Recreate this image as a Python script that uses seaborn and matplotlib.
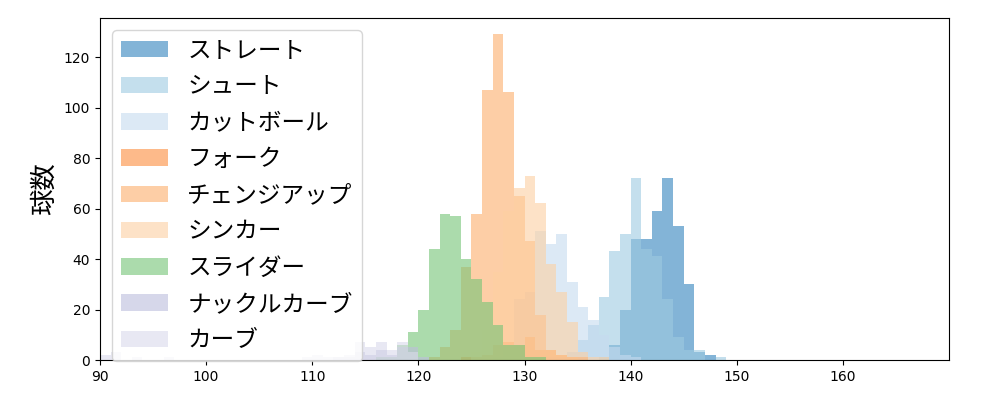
import numpy as np
import pandas as pd
import matplotlib
matplotlib.use('Agg')
import matplotlib.pyplot as plt
import seaborn as sns

# Pitch types, in legend order, and their colours
pitch_names = ['ストレート', 'シュート', 'カットボール', 'フォーク', 'チェンジアップ',
               'シンカー', 'スライダー', 'ナックルカーブ', 'カーブ']
pitch_colors = ['#3182bd', '#9ecae1', '#c6dbef', '#fd8d3c', '#fdae6b',
                '#fdd0a2', '#74c476', '#bcbddc', '#dadaeb']

# Counts per 1 km/h bin, starting at the given speed
straight_start = 137
straight = [1, 6, 20, 48, 48, 59, 72, 53, 30, 3, 2]
shoot_start = 132
shoot = [1, 1, 3, 8, 14, 25, 43, 50, 72, 44, 41, 24, 9, 4, 4, 0, 1]
cutter_start = 127
cutter = [1, 4, 24, 27, 51, 46, 50, 31, 21, 16, 10, 5, 2, 1]
fork_start = 124
fork = [1, 1, 2, 6, 7, 6, 9, 4, 4, 2, 1, 1]
change_start = 121
change = [1, 5, 12, 37, 58, 107, 129, 106, 65, 47, 18, 4, 2, 1]
sinker_start = 125
sinker = [3, 12, 35, 59, 68, 73, 62, 38, 27, 15, 3, 1, 1]
slider_start = 116
slider = [1, 1, 6, 11, 20, 44, 58, 57, 40, 32, 23, 14, 6, 6, 1, 1]
kcurve_start = 112
kcurve = [1, 1, 3, 2, 4, 2, 5, 5, 1]
curve_start = 90
curve = [2, 3, 0, 1, 0, 0, 1, 0, 0, 0, 0, 0, 0, 0, 0, 0, 0, 0, 0, 1,
         2, 1, 1, 2, 7, 5, 7, 4, 7, 3]

series = [(straight_start, straight), (shoot_start, shoot), (cutter_start, cutter),
          (fork_start, fork), (change_start, change), (sinker_start, sinker),
          (slider_start, slider), (kcurve_start, kcurve), (curve_start, curve)]

plt.rcParams['font.family'] = ['DejaVu Sans', 'Noto Sans CJK JP']
jp_font = ['Noto Sans CJK JP', 'DejaVu Sans']

fig, ax = plt.subplots(figsize=(10, 4), dpi=100)
fig.subplots_adjust(left=0.1, right=0.949, top=0.955, bottom=0.1)

for name, color, (start, counts) in zip(pitch_names, pitch_colors, series):
    df = pd.DataFrame({'speed': np.arange(start, start + len(counts)) + 0.5,
                       'count': counts})
    sns.histplot(data=df, x='speed', weights='count', binwidth=1, binrange=(90, 170),
                 color=color, alpha=0.6, edgecolor='none', linewidth=0,
                 label=name, ax=ax)

ax.set_xlim(90, 170)
ax.set_xticks(np.arange(90, 170, 10))
ax.set_yticks(np.arange(0, 121, 20))
ax.set_xlabel('')
ax.set_ylabel('球数', fontsize=19, family=jp_font)
ax.legend(loc='upper left', prop={'family': jp_font, 'size': 17}, labelspacing=0.56)

plt.savefig('out.png')
